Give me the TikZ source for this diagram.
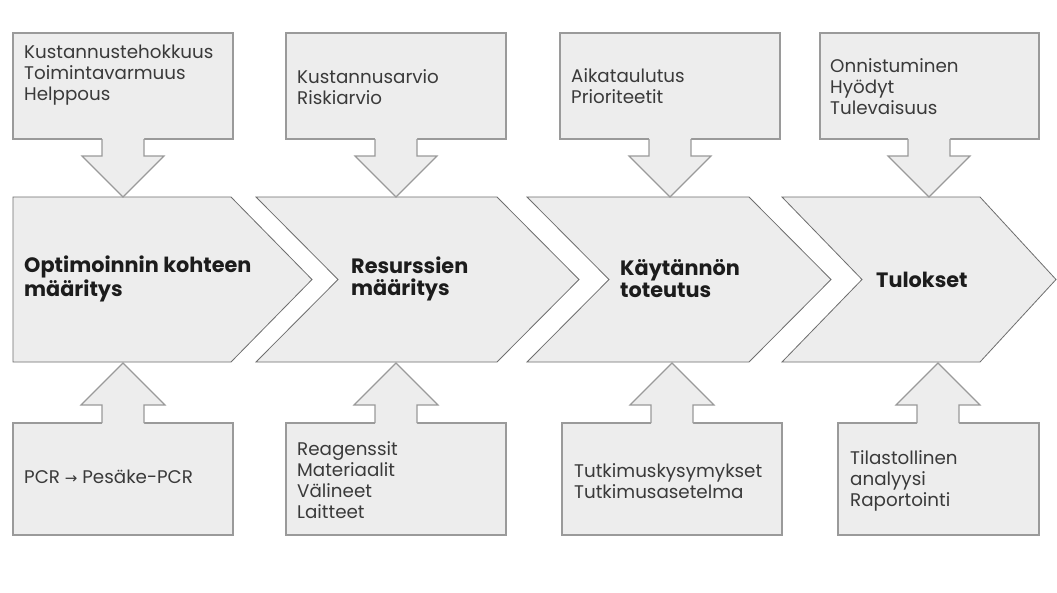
\documentclass[tikz,border=0pt]{standalone}
\usepackage{fontspec}
\setmainfont{Poppins}
\newfontfamily\symbolfont{DejaVu Sans}
\definecolor{shapefill}{HTML}{EDEDED}
\definecolor{boxline}{HTML}{9A9A9A}
\definecolor{chevline}{HTML}{6E6E6E}
\definecolor{bodytext}{HTML}{3A3A3A}
\definecolor{titletext}{HTML}{1C1C1C}
\tikzset{
  infobox/.style={fill=shapefill, draw=boxline, line width=1.2pt},
  chevron/.style={fill=shapefill, draw=chevline, line width=0.8pt},
  arrowfill/.style={fill=shapefill, draw=none},
  arrowline/.style={draw=boxline, line width=1.2pt, line join=miter},
  bodylabel/.style={anchor=west, align=left, inner sep=0pt, text=bodytext,
    font=\fontsize{18.3}{21}\selectfont},
  titlelabel/.style={anchor=west, align=left, inner sep=0pt, text=titletext,
    font=\fontsize{20.8}{22}\selectfont\bfseries},
}
\newcommand{\downarrowshape}[1]{%
  \fill[arrowfill] (#1-21,137) -- (#1-21,156) -- (#1-41,156) -- (#1,197) -- (#1+41,156) -- (#1+21,156) -- (#1+21,137) -- cycle;
  \draw[arrowline] (#1-21,139) -- (#1-21,156) -- (#1-41,156) -- (#1,197) -- (#1+41,156) -- (#1+21,156) -- (#1+21,139);
}
\newcommand{\uparrowshape}[1]{%
  \fill[arrowfill] (#1-21,425) -- (#1-21,405) -- (#1-42,405) -- (#1,363) -- (#1+42,405) -- (#1+21,405) -- (#1+21,425) -- cycle;
  \draw[arrowline] (#1-21,423) -- (#1-21,405) -- (#1-42,405) -- (#1,363) -- (#1+42,405) -- (#1+21,405) -- (#1+21,423);
}
\begin{document}
\begin{tikzpicture}[x=1pt,y=-1pt]
\useasboundingbox (0,0) rectangle (1057,592);
\fill[white] (0,0) rectangle (1057,592);

% chevrons
\draw[chevron] (13,197) -- (231,197) -- (312,279.5) -- (231,362) -- (13,362) -- cycle;
\draw[chevron] (256,197) -- (497,197) -- (579,279.5) -- (497,362) -- (256,362) -- (338,279.5) -- cycle;
\draw[chevron] (527,197) -- (749,197) -- (831,279.5) -- (749,362) -- (527,362) -- (609,279.5) -- cycle;
\draw[chevron] (782,197) -- (980,197) -- (1056,279.5) -- (980,362) -- (782,362) -- (862,279.5) -- cycle;

% top boxes
\draw[infobox] (13,33) rectangle (233,139);
\draw[infobox] (286,33) rectangle (506,139);
\draw[infobox] (560,33) rectangle (780,139);
\draw[infobox] (820,33) rectangle (1039,139);

% bottom boxes
\draw[infobox] (13,423) rectangle (233,535);
\draw[infobox] (286,423) rectangle (506,535);
\draw[infobox] (562,423) rectangle (782,535);
\draw[infobox] (838,423) rectangle (1039,535);

% block arrows
\downarrowshape{123}
\downarrowshape{396}
\downarrowshape{670}
\downarrowshape{929}
\uparrowshape{123}
\uparrowshape{396}
\uparrowshape{672}
\uparrowshape{938}

% titles
\node[titlelabel] (t1) at (24,279) {Optimoinnin kohteen\\määritys};
\node[titlelabel] (t2) at (351,279) {Resurssien\\määritys};
\node[titlelabel] (t3) at (620,279) {Käytännön\\toteutus};
\node[titlelabel] (t4) at (876,280) {Tulokset};

% top texts
\node[bodylabel] (a1) at (24,75) {Kustannustehokkuus\\Toimintavarmuus\\Helppous};
\node[bodylabel] (a2) at (297,87) {Kustannusarvio\\Riskiarvio};
\node[bodylabel] (a3) at (571,86) {Aikataulutus\\Prioriteetit};
\node[bodylabel] (a4) at (830,87) {Onnistuminen\\Hyödyt\\Tulevaisuus};

% bottom texts
\node[bodylabel] (b1) at (24,477) {PCR {\symbolfont\fontsize{15}{21}\selectfont →} Pesäke-PCR};
\node[bodylabel] (b2) at (297,480) {Reagenssit\\Materiaalit\\Välineet\\Laitteet};
\node[bodylabel] (b3) at (574,481) {Tutkimuskysymykset\\Tutkimusasetelma};
\node[bodylabel] (b4) at (850,481) {Tilastollinen\\analyysi\\Raportointi};
\end{tikzpicture}
\end{document}
